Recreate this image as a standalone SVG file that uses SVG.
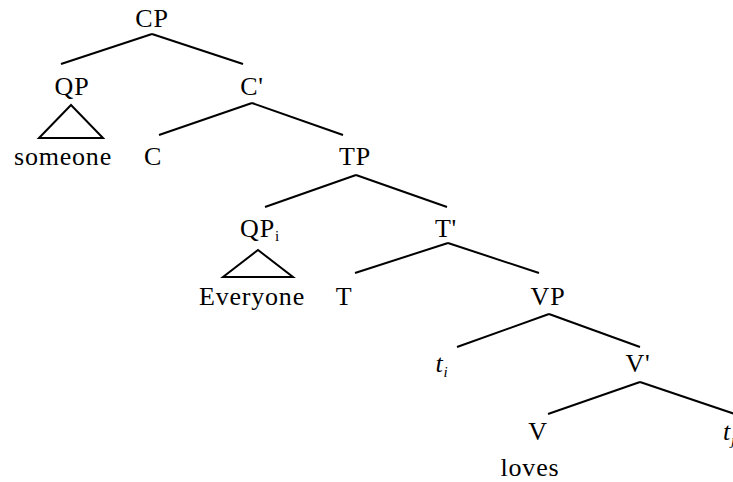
<svg xmlns="http://www.w3.org/2000/svg" width="733" height="482" viewBox="0 0 733 482">
<style>
text{font-family:"Liberation Serif","Times New Roman",serif;font-size:26px;letter-spacing:0.8px;fill:#000;text-anchor:middle}
.it{font-style:italic}
.sub{font-size:15px}
line,polygon{stroke:#000;stroke-width:2;fill:none}
</style>
<rect width="733" height="482" fill="#fff"/>
<g id="connectors">
<line x1="152" y1="34" x2="61" y2="64"/><line x1="152" y1="34" x2="243" y2="64"/>
<line x1="252" y1="103" x2="159" y2="135"/><line x1="252" y1="103" x2="343" y2="135"/>
<line x1="356" y1="175" x2="265" y2="207"/><line x1="356" y1="175" x2="447" y2="207"/>
<line x1="448" y1="243" x2="355" y2="273"/><line x1="448" y1="243" x2="539" y2="273"/>
<line x1="549" y1="314" x2="457" y2="347"/><line x1="549" y1="314" x2="640" y2="347"/>
<line x1="640" y1="382" x2="548" y2="414"/><line x1="640" y1="382" x2="735" y2="414"/>
</g>
<g id="n-cp"><text x="152" y="27">CP</text></g>
<g id="n-qp"><text x="72" y="95">QP</text><polygon points="71,105 39,138 103,138"/></g>
<g id="n-someone"><text x="63" y="165">someone</text></g>
<g id="n-cbar"><text x="252" y="95">C'</text></g>
<g id="n-c"><text x="153" y="165">C</text></g>
<g id="n-tp"><text x="355" y="165">TP</text></g>
<g id="n-qpi"><text x="260" y="237">QP<tspan class="sub" dy="4">i</tspan></text><polygon points="258,250 223,277 293,277"/></g>
<g id="n-everyone"><text x="252" y="305">Everyone</text></g>
<g id="n-tbar"><text x="446" y="237">T'</text></g>
<g id="n-t"><text x="344" y="305">T</text></g>
<g id="n-vp"><text x="548" y="305">VP</text></g>
<g id="n-ti"><text x="442" y="372"><tspan class="it">t</tspan><tspan class="sub it" dy="5">i</tspan></text></g>
<g id="n-vbar"><text x="638" y="372">V'</text></g>
<g id="n-v"><text x="538" y="440">V</text></g>
<g id="n-loves"><text x="530" y="476">loves</text></g>
<g id="n-tj"><text x="723" y="440" style="text-anchor:start"><tspan class="it">t</tspan><tspan class="sub it" dy="5">j</tspan></text></g>
</svg>
